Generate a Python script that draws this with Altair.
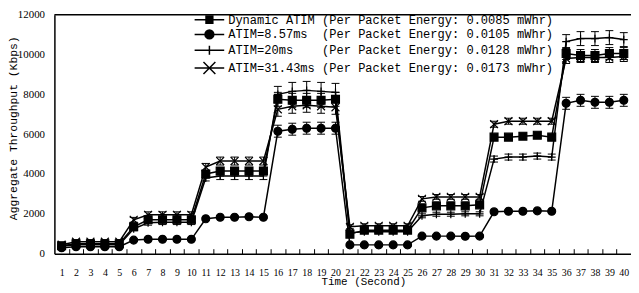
import altair as alt
import pandas as pd

times = list(range(1, 41))

series_keys = ["dyn", "a857", "a20", "a3143"]
legend_labels = [
    "Dynamic ATIM (Per Packet Energy: 0.0085 mWhr)",
    "ATIM=8.57ms\u00a0\u00a0(Per Packet Energy: 0.0105 mWhr)",
    "ATIM=20ms\u00a0\u00a0\u00a0\u00a0(Per Packet Energy: 0.0128 mWhr)",
    "ATIM=31.43ms (Per Packet Energy: 0.0173 mWhr)",
]

dyn = [400, 500, 500, 500, 500, 1350, 1700, 1700, 1700, 1700,
       4000, 4150, 4150, 4150, 4150, 7750, 7700, 7700, 7700, 7750,
       980, 1180, 1180, 1180, 1180, 2300, 2400, 2400, 2400, 2450,
       5850, 5850, 5900, 5950, 5850, 10050, 9950, 9950, 10050, 10050]
a857 = [300, 350, 350, 350, 350, 680, 720, 720, 720, 720,
        1750, 1830, 1830, 1850, 1830, 6150, 6250, 6300, 6300, 6300,
        440, 440, 440, 440, 440, 880, 880, 880, 870, 880,
        2100, 2130, 2130, 2150, 2130, 7550, 7700, 7600, 7600, 7700]
a20 = [380, 450, 450, 450, 450, 1250, 1550, 1580, 1580, 1580,
       3800, 3900, 3900, 3900, 3900, 8000, 8150, 8200, 8150, 8100,
       1050, 1100, 1100, 1100, 1100, 1900, 1980, 1980, 2000, 2000,
       4750, 4850, 4850, 4900, 4850, 10650, 10800, 10800, 10850, 10750]
a3143 = [450, 600, 600, 600, 600, 1700, 1950, 1950, 1950, 1950,
         4350, 4650, 4650, 4650, 4650, 7250, 7400, 7450, 7400, 7350,
         1350, 1400, 1400, 1400, 1400, 2750, 2850, 2850, 2850, 2850,
         6500, 6650, 6650, 6650, 6650, 9800, 9850, 9850, 9850, 9900]

dyn_err = [60, 80, 80, 80, 80, 100, 120, 120, 120, 120,
           150, 180, 180, 180, 180, 350, 350, 350, 350, 350,
           80, 80, 80, 80, 80, 100, 100, 100, 100, 100,
           120, 120, 120, 120, 120, 300, 300, 300, 300, 300]
a857_err = [50, 50, 50, 50, 50, 50, 50, 50, 50, 50,
            60, 60, 60, 60, 60, 300, 300, 300, 300, 300,
            50, 50, 50, 50, 50, 60, 60, 60, 60, 60,
            60, 60, 60, 60, 60, 300, 300, 300, 300, 300]
a20_err = [60, 80, 80, 80, 80, 100, 120, 120, 120, 120,
           150, 180, 180, 180, 180, 400, 450, 450, 450, 450,
           80, 80, 80, 80, 80, 100, 100, 100, 100, 100,
           150, 150, 150, 150, 150, 350, 350, 350, 350, 350]
a3143_err = [80, 100, 100, 100, 100, 120, 150, 150, 150, 150,
             180, 200, 200, 200, 200, 350, 350, 350, 350, 350,
             100, 100, 100, 100, 100, 120, 120, 120, 120, 120,
             150, 150, 150, 150, 150, 250, 250, 250, 250, 250]

y_ticks = [0, 2000, 4000, 6000, 8000, 10000, 12000]

values = {"dyn": dyn, "a857": a857, "a20": a20, "a3143": a3143}
errors = {"dyn": dyn_err, "a857": a857_err, "a20": a20_err, "a3143": a3143_err}

rows = []
for key, lab in zip(series_keys, legend_labels):
    for t, v, e in zip(times, values[key], errors[key]):
        rows.append({"t": t, "series": key, "label": lab, "value": v,
                     "lo": v - e, "hi": v + e})
df = pd.DataFrame(rows)

W, H = 584, 242
xscale = alt.Scale(domain=[0.5, 40.5], nice=False, zero=False)
yscale = alt.Scale(domain=[0, 12000], nice=False)

y_axis = alt.Axis(values=y_ticks, format="d", ticks=False, grid=False, domainColor="black",
                  domainWidth=1.5, labelFont="Liberation Serif", labelFontSize=11,
                  labelColor="black", labelPadding=10,
                  title="Aggregate Throughput (Kbps)", titleFont="Liberation Mono",
                  titleFontSize=11.5, titleFontWeight="normal", titleColor="black",
                  titleX=-41, titleY=114.5, titleBaseline="middle")

bottom_axis = alt.Axis(values=times, format="d", ticks=False, tickSize=0, grid=False,
                       domainColor="black", domainWidth=1.5,
                       labelFont="Liberation Serif", labelFontSize=10,
                       labelColor="black", labelPadding=14.5, labelOverlap=False,
                       labelFlush=False, labelBound=False,
                       title="Time (Second)", titleFont="Liberation Mono",
                       titleFontSize=11, titleFontWeight="normal", titleColor="black",
                       titleX=313, titleY=28.5, titleBaseline="middle")

tick_axis = alt.Axis(orient="top", offset=-H, values=[i + 0.5 for i in range(1, 40)],
                     labels=False, domain=False, grid=False, ticks=True, tickSize=5,
                     tickColor="black", tickWidth=1, title=None)

def X(axis):
    return alt.X("t:Q", scale=xscale, axis=axis)

def Y(field):
    return alt.Y(field, scale=yscale, axis=y_axis)

base = alt.Chart(df)

lines = base.mark_line(color="black", strokeWidth=1.5).encode(
    x=X(tick_axis), y=Y("value:Q"), detail="series:N")

rules = base.mark_rule(color="black", strokeWidth=1).encode(
    x=X(None), y=Y("lo:Q"), y2="hi:Q")

caps_lo = base.mark_point(shape="M-1,0H1", size=64, stroke="black", strokeWidth=1,
                          opacity=1).encode(x=X(None), y=Y("lo:Q"))
caps_hi = base.mark_point(shape="M-1,0H1", size=64, stroke="black", strokeWidth=1,
                          opacity=1).encode(x=X(None), y=Y("hi:Q"))

point_shapes = ["square", "circle", "M-1,0H1M0,-1V1", "M-1,-1L1,1M-1,1L1,-1"]
points = base.mark_point(filled=True, fill="black", stroke="black", strokeWidth=1.2,
                         opacity=1).encode(
    x=X(bottom_axis), y=Y("value:Q"),
    size=alt.Size("series:N", scale=alt.Scale(domain=series_keys, range=[64, 64, 81, 81]),
                  legend=None),
    shape=alt.Shape("series:N", scale=alt.Scale(domain=series_keys, range=point_shapes),
                    legend=None))

# legend glyphs: a line with the marker on it (solid markers drawn as dense strokes)
LINE = "M-2.14,0H2.14"
SQUARE = "".join(f"M-0.6,{y}H0.6" for y in ["-0.54", "-0.36", "-0.18", "0", "0.18", "0.36", "0.54"])
CIRCLE = ("M0.64,0A0.64,0.64,0,1,1,-0.64,0A0.64,0.64,0,1,1,0.64,0Z"
          "M-0.34,-0.54H0.34M-0.53,-0.36H0.53M-0.61,-0.18H0.61"
          "M-0.34,0.54H0.34M-0.53,0.36H0.53M-0.61,0.18H0.61")
PLUS = "M0,-0.64V0.64"
CROSS = "M-0.86,-0.86L0.86,0.86M-0.86,0.86L0.86,-0.86"
legend_paths = [LINE + SQUARE, LINE + CIRCLE, LINE + PLUS, LINE + CROSS]

legend_layer = base.transform_filter("false").mark_point(
    filled=False, color="black", strokeWidth=1.5, opacity=1).encode(
    x=X(None), y=Y("value:Q"),
    shape=alt.Shape("label:N", scale=alt.Scale(domain=legend_labels, range=legend_paths),
                    legend=alt.Legend(orient="none", legendX=149, legendY=-3, title=None,
                                      symbolSize=196, symbolStrokeColor="black",
                                      symbolStrokeWidth=1.5,
                                      symbolOpacity=1, labelFont="Liberation Mono",
                                      labelFontSize=12.2, labelColor="black",
                                      labelOffset=11, labelLimit=0, rowPadding=0,
                                      padding=0)))

border = alt.Chart(pd.DataFrame({"v": [12000]})).mark_rule(
    color="black", strokeWidth=1.5).encode(y=Y("v:Q"))

chart = alt.layer(border, lines, rules, caps_lo, caps_hi, points, legend_layer).resolve_axis(
    x="independent").resolve_scale(shape="independent", size="independent").properties(
    width=W, height=H,
    autosize=alt.AutoSizeParams(type="none"),
    padding={"left": 47, "top": 5, "right": 0, "bottom": 33},
    background="white",
).configure_view(stroke=None)

chart.save("out.html", embed_options={"renderer": "svg", "actions": False})
